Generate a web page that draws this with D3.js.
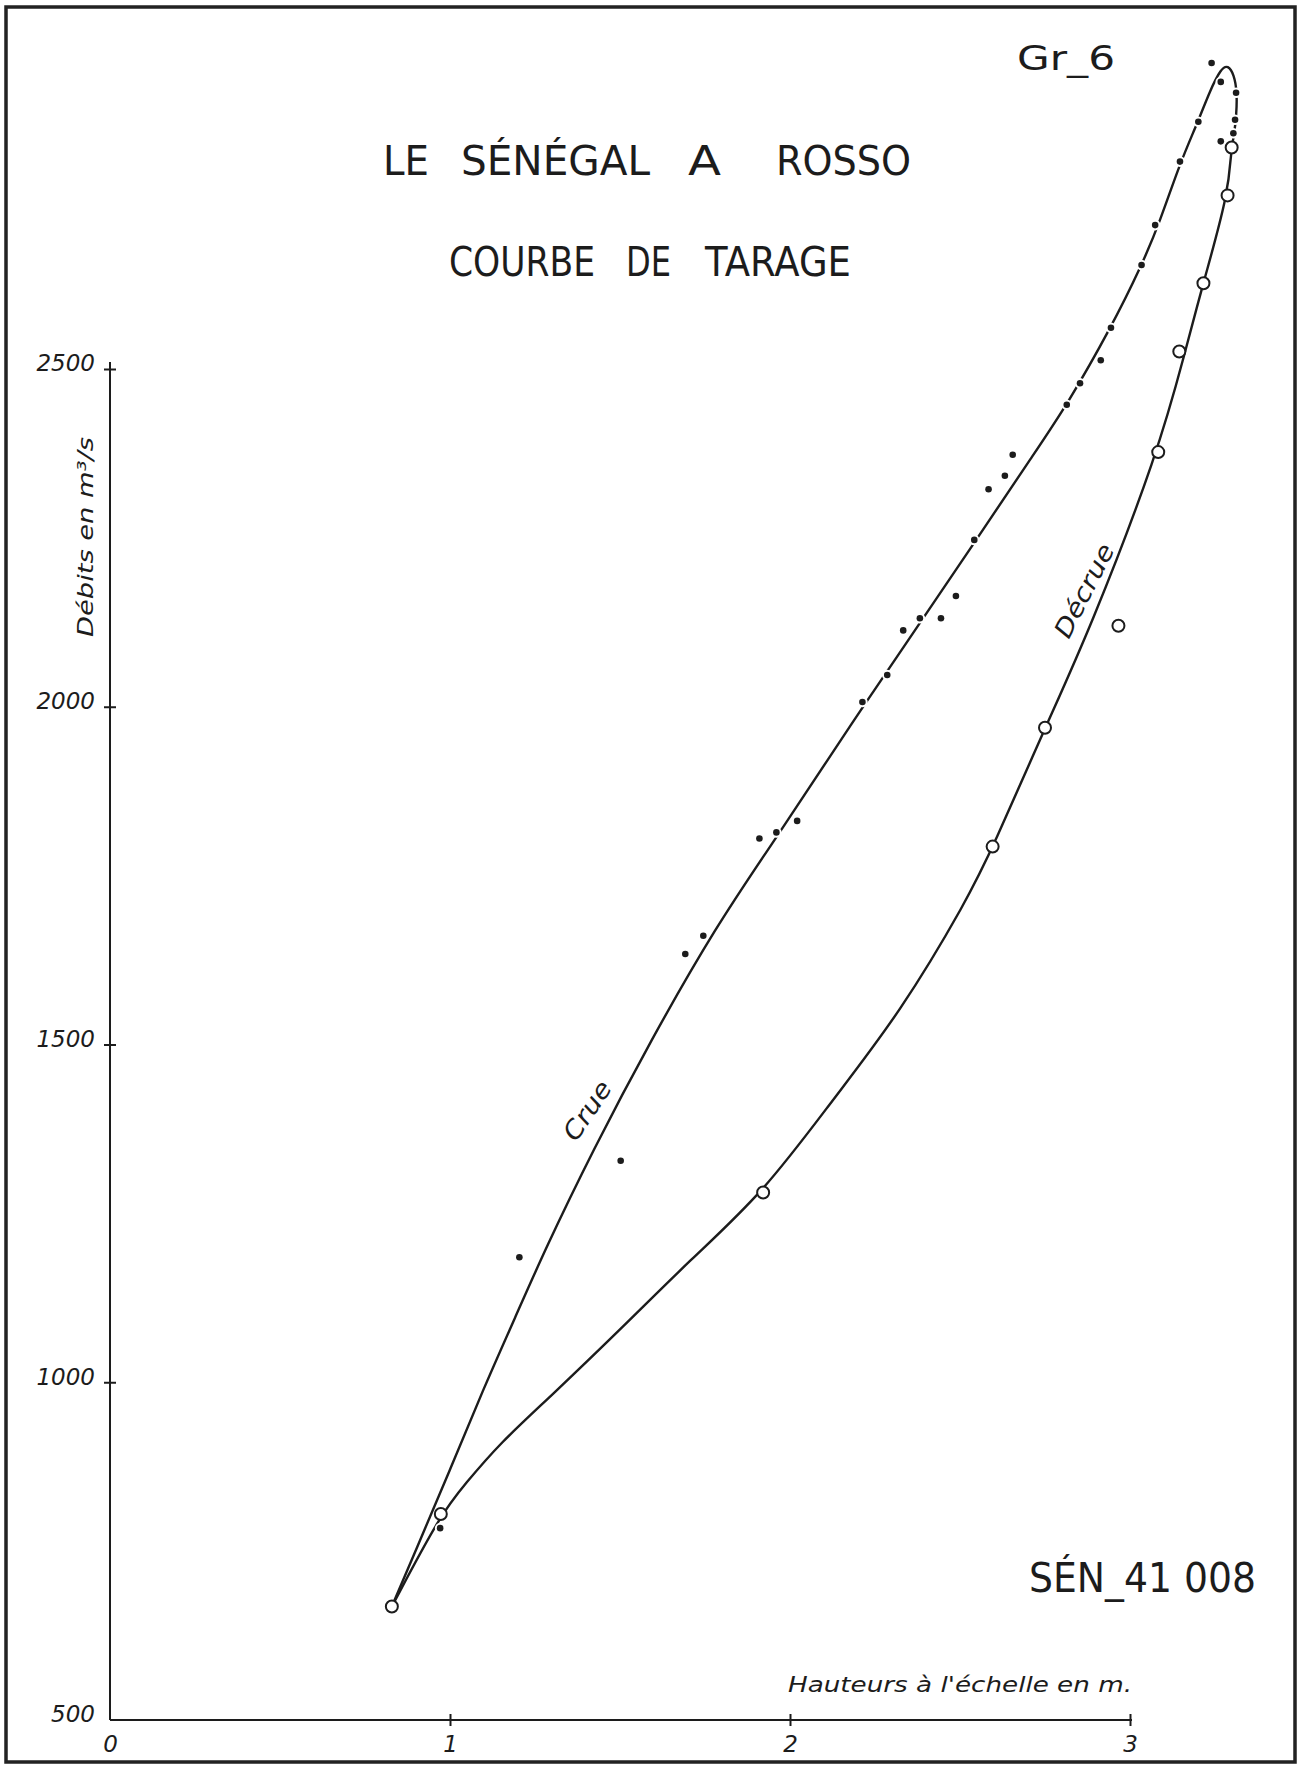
<!DOCTYPE html>
<html>
<head>
<meta charset="utf-8">
<script src="https://cdn.jsdelivr.net/npm/d3@7"></script>
<style>
  body { margin: 0; background: #fff; }
  svg { display: block; }
  text { font-family: "DejaVu Sans", "Liberation Sans", sans-serif; fill: #1c1c1c; }
  .it { font-style: italic; }
</style>
</head>
<body>
<svg id="chart" width="1300" height="1768"></svg>
<script>
// ticks
var yTicks = [500, 1000, 1500, 2000, 2500];
var xTicks = [0, 1, 2, 3];

// measured points, rising stage (dots)
var crueH = [0.971, 1.204, 1.502, 1.692, 1.745, 1.910, 1.960, 2.021, 2.213, 2.286,
  2.333, 2.382, 2.444, 2.488, 2.542, 2.584, 2.632, 2.655, 2.814, 2.853,
  2.914, 2.944, 3.034, 3.074, 3.147, 3.201, 3.240, 3.267, 3.312, 3.309, 3.304, 3.267];
var crueQ = [784, 1185, 1328, 1634, 1661, 1805, 1814, 1831, 2007, 2047,
  2113, 2131, 2131, 2164, 2247, 2322, 2342, 2373, 2447, 2479,
  2513, 2561, 2654, 2713, 2807, 2866, 2953, 2925, 2909, 2869, 2849, 2837];

// measured points, falling stage (open circles)
var decrueH = [0.829, 0.973, 1.921, 2.596, 2.750, 2.966, 3.083, 3.145, 3.216, 3.287, 3.299];
var decrueQ = [668, 805, 1281, 1793, 1969, 2120, 2377, 2526, 2627, 2757, 2828];

// drawn curves
var crueCurveH = [0.829, 0.900, 1.000, 1.097, 1.191, 1.279, 1.421, 1.588, 1.785, 1.941,
  2.126, 2.212, 2.362, 2.541, 2.721, 2.815, 2.944, 3.035, 3.088, 3.147,
  3.200, 3.235, 3.268, 3.288, 3.306, 3.315, 3.313, 3.306, 3.299];
var crueCurveQ = [668, 752, 870, 989, 1095, 1196, 1344, 1504, 1677, 1792,
  1933, 1998, 2109, 2242, 2377, 2447, 2561, 2654, 2718, 2805,
  2866, 2912, 2945, 2950, 2936, 2910, 2876, 2846, 2828];

var decrueCurveH = [0.829, 0.973, 1.044, 1.147, 1.294, 1.509, 1.706, 1.921, 2.127, 2.324,
  2.521, 2.597, 2.750, 2.882, 3.083, 3.162, 3.215, 3.288, 3.299];
var decrueCurveQ = [668, 805, 849, 910, 978, 1082, 1181, 1280, 1419, 1547,
  1714, 1792, 1969, 2114, 2377, 2525, 2627, 2756, 2828];

var svg = d3.select("#chart");
var ink = "#1c1c1c";

var x = d3.scaleLinear().domain([0, 3]).range([110, 1130]);
var y = d3.scaleLinear().domain([500, 2500]).range([1720, 369]);

// frame
svg.append("rect")
  .attr("x", 6).attr("y", 7).attr("width", 1289).attr("height", 1755)
  .attr("fill", "none").attr("stroke", "#222").attr("stroke-width", 3.5);

// titles
var titleWords = [["LE", 383, 46], ["SÉNÉGAL", 461, 189], ["A", 688, 33], ["ROSSO", 776, 135]];
titleWords.forEach(function (w) {
  svg.append("text").attr("x", w[1]).attr("y", 175)
    .attr("font-size", 40).attr("textLength", w[2]).attr("lengthAdjust", "spacingAndGlyphs")
    .text(w[0]);
});
var subWords = [["COURBE", 449, 146], ["DE", 626, 45], ["TARAGE", 705, 146]];
subWords.forEach(function (w) {
  svg.append("text").attr("x", w[1]).attr("y", 276)
    .attr("font-size", 40).attr("textLength", w[2]).attr("lengthAdjust", "spacingAndGlyphs")
    .text(w[0]);
});
svg.append("text").attr("x", 1017).attr("y", 70)
  .attr("font-size", 33).attr("textLength", 98).attr("lengthAdjust", "spacingAndGlyphs")
  .text("Gr_6");
svg.append("text").attr("x", 1029).attr("y", 1592)
  .attr("font-size", 40).attr("textLength", 227).attr("lengthAdjust", "spacingAndGlyphs")
  .text("SÉN_41 008");

// axes
var yAxis = d3.axisLeft(y).tickValues(yTicks).tickSizeOuter(0).tickSize(6).tickPadding(9)
  .tickFormat(d3.format("d"));
var gy = svg.append("g").attr("transform", "translate(" + x(0) + ",0)").call(yAxis);
gy.select(".domain").remove();
gy.selectAll(".tick line").attr("x1", -6).attr("x2", 6).attr("stroke", ink).attr("stroke-width", 2);
gy.selectAll(".tick text").attr("class", "it").attr("font-size", 23)
  .attr("font-family", "DejaVu Sans").attr("fill", ink).attr("dy", "0.08em");
gy.selectAll(".tick").filter(function (d) { return d === 500; }).select("line").remove();

var xAxis = d3.axisBottom(x).tickValues(xTicks).tickSizeOuter(0).tickSize(6).tickPadding(10)
  .tickFormat(d3.format("d"));
var gx = svg.append("g").attr("transform", "translate(0," + y(500) + ")").call(xAxis);
gx.select(".domain").remove();
gx.selectAll(".tick line").attr("y1", -6).attr("y2", 6).attr("stroke", ink).attr("stroke-width", 2);
gx.selectAll(".tick text").attr("class", "it").attr("font-size", 23)
  .attr("font-family", "DejaVu Sans").attr("fill", ink);
gx.selectAll(".tick").filter(function (d) { return d === 0; }).select("line").remove();

svg.append("line")
  .attr("x1", x(0)).attr("y1", y(500)).attr("x2", x(0)).attr("y2", y(2500) - 7)
  .attr("stroke", ink).attr("stroke-width", 2);
svg.append("line")
  .attr("x1", x(0)).attr("y1", y(500)).attr("x2", x(3) + 2).attr("y2", y(500))
  .attr("stroke", ink).attr("stroke-width", 2.2);

// axis titles
svg.append("text").attr("class", "it")
  .attr("transform", "translate(93,537) rotate(-90)")
  .attr("text-anchor", "middle").attr("font-size", 22)
  .attr("textLength", 200).attr("lengthAdjust", "spacingAndGlyphs")
  .text("Débits en m³/s");
svg.append("text").attr("class", "it")
  .attr("x", 788).attr("y", 1692).attr("font-size", 22)
  .attr("textLength", 344).attr("lengthAdjust", "spacingAndGlyphs")
  .text("Hauteurs à l'échelle en m.");

// curves, smoothed through the read points
var line = d3.line()
  .x(function (d) { return x(d[0]); })
  .y(function (d) { return y(d[1]); })
  .curve(d3.curveBasis);

svg.append("path")
  .datum(d3.zip(decrueCurveH, decrueCurveQ))
  .attr("d", line).attr("fill", "none").attr("stroke", ink).attr("stroke-width", 2.4);
svg.append("path")
  .datum(d3.zip(crueCurveH, crueCurveQ))
  .attr("d", line).attr("fill", "none").attr("stroke", ink).attr("stroke-width", 2.4);

// curve labels
svg.append("text").attr("class", "it")
  .attr("transform", "translate(" + x(1.425) + "," + y(1395) + ") rotate(-56)")
  .attr("text-anchor", "middle").attr("font-size", 25)
  .attr("textLength", 66).attr("lengthAdjust", "spacingAndGlyphs").text("Crue");
svg.append("text").attr("class", "it")
  .attr("transform", "translate(" + x(2.888) + "," + y(2166) + ") rotate(-63)")
  .attr("text-anchor", "middle").attr("font-size", 25)
  .attr("textLength", 102).attr("lengthAdjust", "spacingAndGlyphs").text("Décrue");

// points
svg.append("g").selectAll("circle")
  .data(d3.zip(crueH, crueQ))
  .join("circle")
  .attr("cx", function (d) { return x(d[0]); })
  .attr("cy", function (d) { return y(d[1]); })
  .attr("r", 3.3)
  .attr("fill", ink).attr("stroke", "#fff").attr("stroke-width", 4)
  .attr("paint-order", "stroke");

svg.append("g").selectAll("circle")
  .data(d3.zip(decrueH, decrueQ))
  .join("circle")
  .attr("cx", function (d) { return x(d[0]); })
  .attr("cy", function (d) { return y(d[1]); })
  .attr("r", 6)
  .attr("fill", "#fff").attr("stroke", ink).attr("stroke-width", 2);
</script>
</body>
</html>
